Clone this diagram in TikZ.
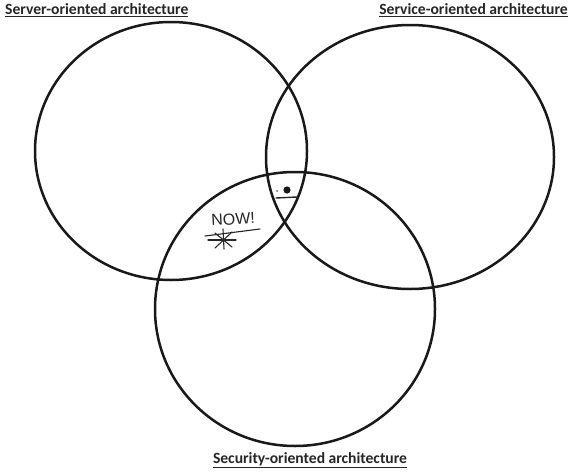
\documentclass[tikz,border=0pt]{standalone}
\usepackage{fontspec}
\setmainfont{Carlito}
\newfontfamily\handfont{Liberation Sans}
\begin{document}
\begin{tikzpicture}[x=1pt,y=-1pt,
  ring/.style={draw=black!90,line width=2.5pt},
  caption/.style={font=\fontsize{15.6}{17}\selectfont\bfseries,text=black!85,inner sep=0pt},
  scrawl/.style={draw=black!85,line width=1.1pt,line cap=round,line join=round}]
\useasboundingbox (0,0) rectangle (570,471);
\fill[white] (0,0) rectangle (570,471);

% the three overlapping circles
\draw[ring] (171,151) ellipse [x radius=136pt,y radius=129pt];
\draw[ring] (410,157) ellipse [x radius=144pt,y radius=132pt];
\draw[ring] (295,309) ellipse [x radius=140pt,y radius=137pt];

% captions
\node[caption,anchor=west] (server) at (5,10) {\underline{Server-oriented architecture}};
\node[caption,anchor=east] (service) at (568,10) {\underline{Service-oriented architecture}};
\node[caption] (security) at (310,460) {\underline{Security-oriented architecture}};

% hand-written note in the server/security overlap
\node[font=\handfont\fontsize{16}{16}\selectfont,text=black!85,inner sep=0pt,rotate=3] (now) at (233,219) {NOW!};
\draw[scrawl] (205,236) -- (260,229);
\draw[scrawl] (208,240) -- (236,240);
\draw[scrawl] (223,229) -- (224,249);
\draw[scrawl] (215,233) -- (232,247);
\draw[scrawl] (232,232) -- (215,248);

% mark in the centre of all three
\fill[black!90] (287,190) circle [radius=3.6pt];
\fill[black!60] (277,191) circle [radius=1pt];
\draw[scrawl,line width=1.4pt] (276,198) -- (297,197);
\end{tikzpicture}
\end{document}
